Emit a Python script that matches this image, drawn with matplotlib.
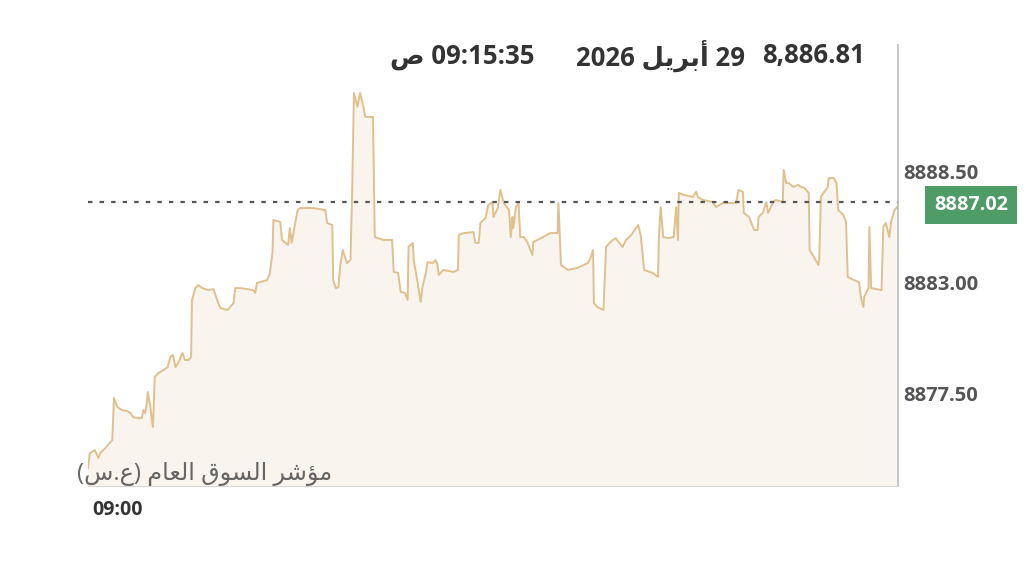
import matplotlib.pyplot as plt
import numpy as np

# seconds since 09:00 and index values
t_sec = [0, 2, 8, 12, 14, 20, 25, 28, 30, 34, 39, 45, 49, 52, 58, 62, 64, 66, 68, 69,
         72, 74, 75, 77, 81, 87, 92, 95, 98, 101, 104, 109, 112, 116, 119, 120, 124, 127, 132, 139,
         145, 149, 153, 161, 168, 170, 176, 191, 193, 195, 207, 210, 213, 214, 222, 224, 231, 233, 235, 242,
         245, 260, 274, 276, 282, 283, 286, 289, 291, 294, 299, 303, 305, 307, 311, 314, 318, 320, 329, 331,
         341, 351, 353, 358, 361, 366, 369, 370, 375, 376, 380, 384, 386, 390, 392, 398, 401, 403, 405, 410,
         422, 427, 428, 434, 445, 447, 451, 453, 459, 462, 467, 468, 473, 476, 480, 486, 488, 490, 491, 494,
         497, 499, 503, 507, 513, 514, 523, 534, 542, 543, 546, 554, 565, 577, 580, 583, 584, 588, 595, 598,
         603, 609, 617, 621, 627, 635, 638, 642, 652, 658, 659, 661, 664, 670, 676, 679, 681, 682, 688, 698,
         702, 704, 710, 721, 725, 733, 748, 751, 756, 757, 763, 769, 773, 774, 779, 783, 785, 791, 794, 802,
         803, 806, 809, 814, 820, 823, 827, 832, 833, 838, 843, 844, 846, 849, 854, 855, 861, 864, 866, 872,
         875, 877, 884, 890, 892, 895, 896, 901, 902, 904, 916, 918, 921, 925, 927, 931, 935]

values = [8873.81, 8874.55, 8874.70, 8874.31, 8874.55, 8874.80, 8875.05, 8875.20, 8877.28, 8876.84,
          8876.69, 8876.64, 8876.54, 8876.34, 8876.29, 8876.29, 8876.69, 8876.54, 8877.04, 8877.58,
          8876.84, 8876.09, 8875.85, 8878.33, 8878.52, 8878.67, 8878.82, 8879.32, 8879.42, 8878.82,
          8879.02, 8879.52, 8879.17, 8879.17, 8879.32, 8882.15, 8882.74, 8882.89, 8882.74, 8882.64,
          8882.69, 8882.15, 8881.75, 8881.65, 8882.00, 8882.74, 8882.74, 8882.64, 8882.50, 8882.99,
          8883.14, 8883.49, 8884.53, 8886.12, 8886.02, 8885.13, 8884.88, 8885.72, 8884.98, 8886.61,
          8886.71, 8886.71, 8886.61, 8885.97, 8885.87, 8883.14, 8882.74, 8882.79, 8883.79, 8884.63,
          8883.98, 8884.13, 8887.76, 8892.42, 8891.73, 8892.42, 8891.73, 8891.23, 8891.23, 8885.27,
          8885.13, 8885.13, 8883.54, 8883.49, 8882.55, 8882.50, 8882.15, 8884.78, 8884.98, 8884.13,
          8883.14, 8882.05, 8882.79, 8883.49, 8884.03, 8883.98, 8884.13, 8883.98, 8883.39, 8883.64,
          8883.54, 8883.64, 8885.37, 8885.47, 8885.52, 8884.98, 8884.98, 8885.97, 8886.22, 8886.86,
          8887.01, 8886.27, 8886.71, 8887.61, 8886.96, 8886.61, 8885.27, 8886.27, 8885.72, 8886.76,
          8886.96, 8885.27, 8885.27, 8885.03, 8884.38, 8885.03, 8885.22, 8885.47, 8885.47, 8886.96,
          8883.89, 8883.64, 8883.74, 8883.98, 8884.23, 8884.63, 8882.00, 8881.80, 8881.65, 8884.78,
          8885.03, 8885.22, 8884.78, 8885.13, 8885.37, 8885.87, 8885.37, 8883.64, 8883.49, 8883.29,
          8885.27, 8886.76, 8885.27, 8885.22, 8885.27, 8886.76, 8885.13, 8887.46, 8887.36, 8887.26,
          8887.51, 8887.26, 8887.11, 8887.01, 8886.76, 8886.96, 8886.96, 8887.61, 8887.51, 8886.47,
          8886.27, 8885.62, 8885.62, 8886.27, 8886.47, 8887.01, 8886.47, 8887.01, 8887.11, 8887.01,
          8888.60, 8887.95, 8887.95, 8887.76, 8887.86, 8887.76, 8887.71, 8887.46, 8884.63, 8884.28,
          8883.89, 8884.13, 8887.26, 8887.46, 8887.76, 8888.20, 8888.20, 8887.95, 8886.61, 8886.37,
          8886.02, 8883.29, 8883.14, 8883.04, 8882.30, 8881.80, 8882.30, 8882.74, 8885.77, 8882.74,
          8882.64, 8885.77, 8885.97, 8885.27, 8886.02, 8886.61, 8886.81]

y_ticks = [8877.50, 8883.00, 8888.50]
ref_level = 8887.02
last_value = "8,886.81"
date_day = "29"
date_month = "\uFEDE\uFEF3\uFEAE\uFE91\uFE83"   # أبريل (shaped, visual order)
date_year = "2026"
time_txt = "09:15:35"
am_txt = "\uFEB9"                                # ص
start_label = "09:00"
# مؤشر السوق العام (ع.س) in visual order with presentation forms
index_name = ("(\uFEB1.\uFEC9) "
              "\uFEE1\uFE8E\uFECC\uFEDF\uFE8D "
              "\uFED5\uFEEE\uFEB4\uFEDF\uFE8D "
              "\uFEAE\uFEB7\uFE86\uFEE3")

FONTS = ['Open Sans', 'DejaVu Sans']
plt.rcParams['font.family'] = FONTS

W, H = 1024, 566
fig = plt.figure(figsize=(W / 100, H / 100), dpi=100)
ax = fig.add_axes([88 / W, 1 - 486 / H, (898 - 88) / W, (486 - 45) / H])

t = np.array(t_sec)
v = np.array(values)
ax.set_xlim(0, 935)
ax.set_ylim(8872.92, 8894.80)

ax.fill_between(t, v, 8872.92, color='#faf4ee', lw=0)
ax.plot(t, v, color='#e0c08c', lw=1.4)
ax.axhline(ref_level, color='#555555', lw=1.6, ls=(0, (2, 3.2)))

for s in ['top', 'left']:
    ax.spines[s].set_visible(False)
ax.spines['right'].set_color('#bdbdbd')
ax.spines['bottom'].set_color('#d6d6d6')
ax.spines['right'].set_linewidth(1.2)

ax.yaxis.tick_right()
ax.set_yticks(y_ticks)
ax.set_yticklabels([f"{y:.2f}" for y in y_ticks], fontsize=14.5, fontweight='bold',
                   color='#555555')
ax.tick_params(axis='y', length=0, pad=4)
ax.set_xticks([])

# last value box on the right
ax.annotate(f"{ref_level:.2f}", xy=(1.0905, ref_level), xycoords=('axes fraction', 'data'),
            xytext=(0, -3), textcoords='offset pixels',
            ha='center', va='center', fontsize=14.3, fontweight='bold', color='white',
            bbox=dict(boxstyle='square,pad=0.45', fc='#4e9c66', ec='none'))

# header
hy = 1 - 56 / H
fig.text(865 / W, hy, last_value, ha='right', va='center', fontsize=18.5,
         fontweight='bold', color='#333333')
fig.text(745 / W, hy, f"{date_year} {date_month} {date_day}", ha='right', va='center',
         fontsize=18.5, fontweight='bold', color='#333333')
fig.text(535 / W, hy, f"{am_txt} {time_txt}", ha='right', va='center', fontsize=18.5,
         fontweight='bold', color='#333333')

fig.text(77 / W, 1 - 474 / H, index_name, ha='left', va='center', fontsize=17.3,
         color='#666666')
fig.text(92 / W, 1 - 510 / H, start_label, ha='left', va='center', fontsize=14,
         fontweight='bold', color='#333333')

fig.savefig('out.png', dpi=100)
